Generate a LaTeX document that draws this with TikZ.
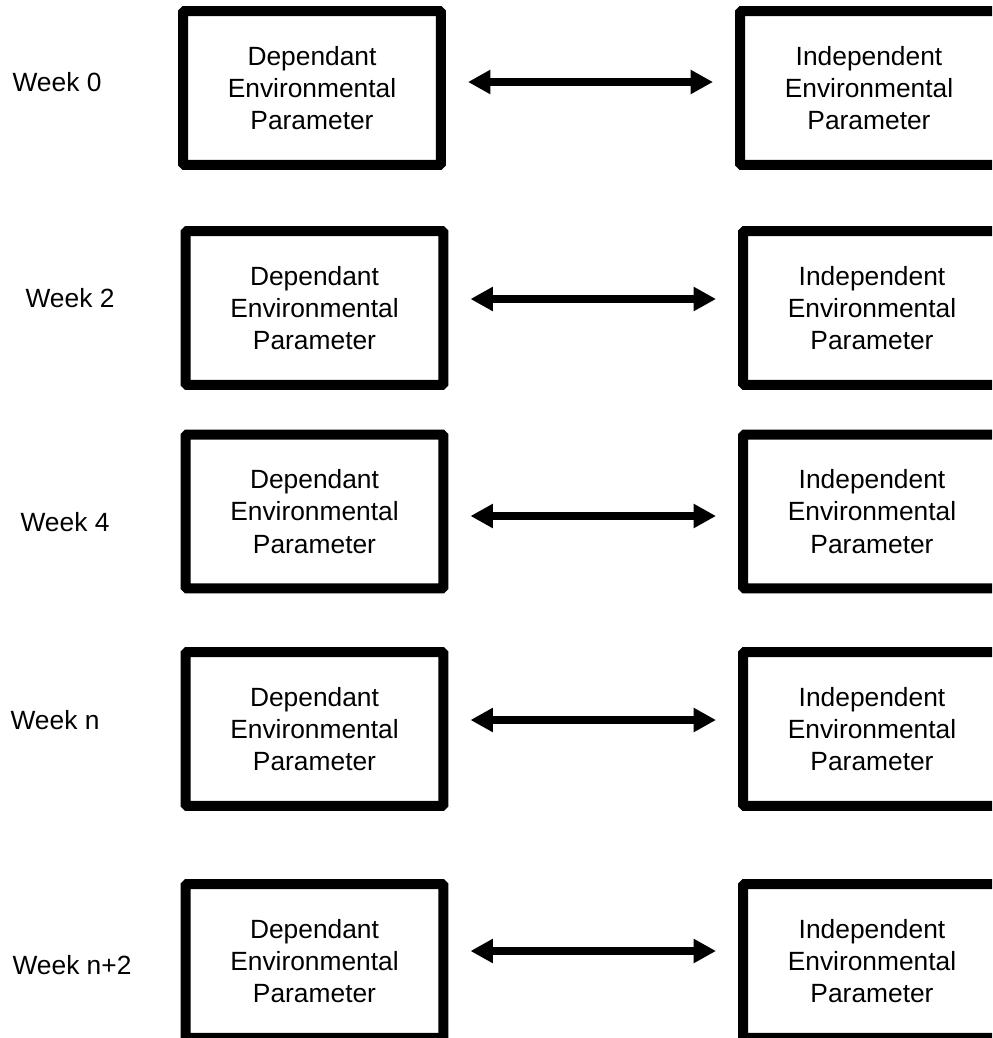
\documentclass[tikz,border=0pt]{standalone}
\usepackage{fontspec}
\setmainfont{Liberation Sans}
\usetikzlibrary{arrows, arrows.meta}

\begin{document}
\begin{tikzpicture}[x=0.02cm, y=-0.02cm,
    param/.style={draw, line width=0.2cm, rounded corners=1pt, minimum width=5.16cm, minimum height=3.08cm, align=center, font=\fontsize{15}{18.3}\selectfont},
    week/.style={font=\fontsize{15}{18.3}\selectfont},
    link/.style={line width=4.6pt, {Triangle[length=0.45cm, width=0.46cm]}-{Triangle[length=0.45cm, width=0.46cm]}, shorten <=0.44cm, shorten >=0.44cm}]

    \path[use as bounding box, clip] (0,0) rectangle (992,1038);

    \node[week] (w0) at (57,82) {Week 0};
    \node[param] (dep0) at (312,88) {Dependant\\Environmental\\Parameter};
    \node[param] (ind0) at (869,88) {Independent\\Environmental\\Parameter};

    \node[week] (w2) at (70,298) {Week 2};
    \node[param] (dep2) at (314.5,308) {Dependant\\Environmental\\Parameter};
    \node[param] (ind2) at (872,308) {Independent\\Environmental\\Parameter};

    \node[week] (w4) at (65,522) {Week 4};
    \node[param] (dep4) at (314.5,511.5) {Dependant\\Environmental\\Parameter};
    \node[param] (ind4) at (872,511.5) {Independent\\Environmental\\Parameter};

    \node[week] (wn) at (55,720) {Week n};
    \node[param] (depn) at (314.5,729) {Dependant\\Environmental\\Parameter};
    \node[param] (indn) at (872,729) {Independent\\Environmental\\Parameter};

    \node[week] (wn2) at (72,965) {Week n+2};
    \node[param] (depn2) at (314.5,961) {Dependant\\Environmental\\Parameter};
    \node[param] (indn2) at (872,961) {Independent\\Environmental\\Parameter};

    \draw[link] ([yshift=0.12cm]dep0.east) -- ([yshift=0.12cm]ind0.west);
    \draw[link] ([yshift=0.18cm]dep2.east) -- ([yshift=0.18cm]ind2.west);
    \draw[link] ([yshift=-0.09cm]dep4.east) -- ([yshift=-0.09cm]ind4.west);
    \draw[link] ([yshift=0.18cm]depn.east) -- ([yshift=0.18cm]indn.west);
    \draw[link] ([yshift=0.2cm]depn2.east) -- ([yshift=0.2cm]indn2.west);

\end{tikzpicture}
\end{document}
